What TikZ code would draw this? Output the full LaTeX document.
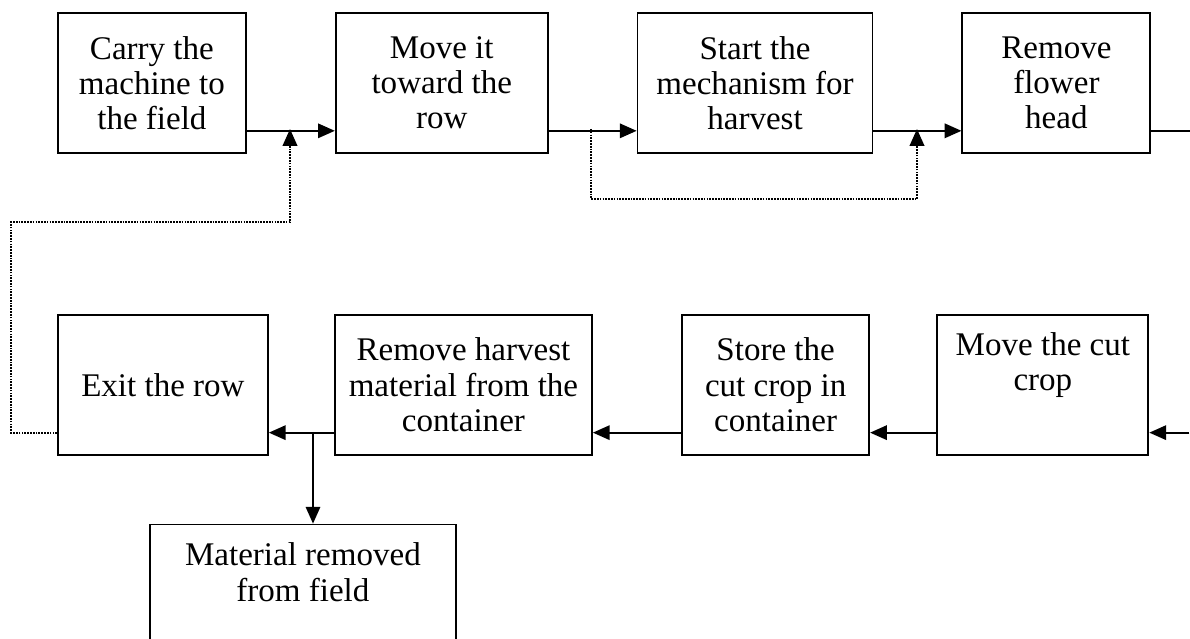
\documentclass[tikz,border=0pt]{standalone}
\usepackage{fontspec}
\setmainfont{Liberation Serif}
\usetikzlibrary{positioning, arrows.meta}

\begin{document}
\begin{tikzpicture}[line join=miter,
  stage/.style={draw, line width=1.3pt, align=center, minimum height=3.5cm, minimum width=#1, inner sep=2pt, font=\fontsize{23.5}{25}\selectfont},
  flow/.style={line width=1.4pt, -{Triangle[length=0.42cm, width=0.36cm]}},
  plain/.style={line width=1.4pt},
  skip/.style={line width=1.6pt, dash pattern=on 1.2pt off 0.8pt, -{Triangle[length=0.42cm, width=0.36cm]}}]
\useasboundingbox (0,0) rectangle (29.75,-15.975);
\clip (0,0) rectangle (29.75,-15.975);
% Top row
\node[stage=4.7cm, anchor=north west] (A) at (1.425,-0.3) {Carry the\\machine to\\the field};
\node[stage=5.3cm, right=2.2cm of A] (B) {Move it\\toward the\\row};
\node[stage=5.875cm, right=2.2cm of B] (C) {Start the\\mechanism for\\harvest};
\node[stage=4.7cm, right=2.2cm of C] (D) {Remove\\flower\\head};
% Bottom row
\node[stage=5.25cm, below right=4.0cm and 0cm of A.south west] (E) {Exit the row};
\node[stage=6.425cm, right=1.63cm of E] (F) {Remove harvest\\material from the\\container};
\node[stage=4.675cm, right=2.21cm of F] (G) {Store the\\cut crop in\\container};
\node[stage=5.275cm, right=1.66cm of G] (H) {Move the cut\\crop\\\rule[-0.3cm]{0pt}{0.4cm}};
\node[stage=7.65cm, below right=1.7cm and 2.3cm of E.south west] (M) {Material removed\\from field\\\rule[-0.25cm]{0pt}{0.4cm}};
% Points on the lines
\coordinate (s1) at (14.775,-3.225);
\coordinate (s2) at (22.925,-3.225);
\coordinate (r1) at (7.25,-3.225);
\coordinate (split) at (7.825,-10.8);
\path ([yshift=0.575cm]D.south east) ++(1,0) coordinate (t1);
\path ([yshift=0.575cm]H.south east) ++(1,0) coordinate (t2);
% Arrows
\draw[flow] ([yshift=0.575cm]A.south east) -- ([yshift=0.575cm]B.south west);
\draw[flow] ([yshift=0.575cm]B.south east) -- ([yshift=0.575cm]C.south west);
\draw[flow] ([yshift=0.575cm]C.south east) -- ([yshift=0.575cm]D.south west);
\draw[plain] ([yshift=0.575cm]D.south east) -- (t1);
\draw[flow] (t2) -- ([yshift=0.575cm]H.south east);
\draw[flow] ([yshift=0.575cm]H.south west) -- ([yshift=0.575cm]G.south east);
\draw[flow] ([yshift=0.575cm]G.south west) -- ([yshift=0.575cm]F.south east);
\draw[flow] ([yshift=0.575cm]F.south west) -- ([yshift=0.575cm]E.south east);
\draw[flow] (split) -- (split |- M.north);
% Dotted loops
\draw[skip] (s1) -- ++(0,-1.75) -| (s2);
\draw[skip] ([yshift=0.575cm]E.south west) -| (0.275,-5.55) -| (r1);
\end{tikzpicture}
\end{document}
